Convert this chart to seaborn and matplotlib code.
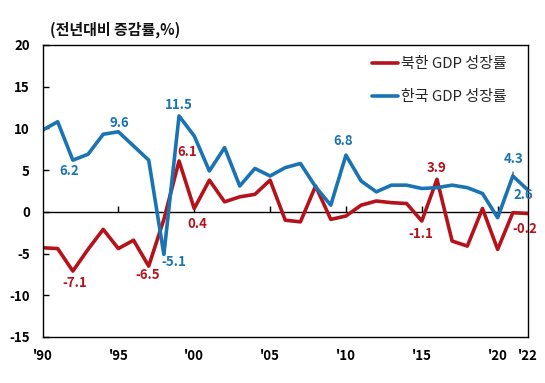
import matplotlib
matplotlib.use("Agg")
import matplotlib.pyplot as plt
import seaborn as sns
import pandas as pd

years = list(range(1990, 2023))
north = [-4.3, -4.4, -7.1, -4.5, -2.1, -4.4, -3.4, -6.5, -0.9, 6.1,
         0.4, 3.8, 1.2, 1.8, 2.1, 3.8, -1.0, -1.2, 3.1, -0.9,
         -0.5, 0.8, 1.3, 1.1, 1.0, -1.1, 3.9, -3.5, -4.1, 0.4,
         -4.5, -0.1, -0.2]
south = [9.8, 10.8, 6.2, 6.9, 9.3, 9.6, 7.9, 6.2, -5.1, 11.5,
         9.1, 4.9, 7.7, 3.1, 5.2, 4.3, 5.3, 5.8, 3.0, 0.8,
         6.8, 3.7, 2.4, 3.2, 3.2, 2.8, 2.9, 3.2, 2.9, 2.2,
         -0.7, 4.3, 2.6]
series_names = ["북한 GDP 성장률", "한국 GDP 성장률"]
x_tick_years = [1990, 1995, 2000, 2005, 2010, 2015, 2020, 2022]
x_tick_labels = ["'90", "'95", "'00", "'05", "'10", "'15", "'20", "'22"]
zero_tick_years = [1995, 2000, 2005, 2010, 2015, 2020]
y_ticks = [-15, -10, -5, 0, 5, 10, 15, 20]
title = "(전년대비 증감률,%)"

# labelled points: (year, text, dx px, dy px)
north_labels = [(1992, "-7.1", 2, -12), (1997, "-6.5", -1, -9), (1999, "6.1", 8, 9),
                (2000, "0.4", 3, -15), (2015, "-1.1", -1, -13), (2016, "3.9", 0, 11.5),
                (2022, "-0.2", -3, -15)]
south_labels = [(1992, "6.2", -4, -10.5), (1995, "9.6", 1, 9), (1998, "-5.1", 10, -7.5),
                (1999, "11.5", 0, 11), (2010, "6.8", -3, 14.5), (2022, "2.6", -5, -5)]
south_leader = (2021, "4.3", 1, 17)

RED = "#b5121b"
BLUE = "#1a74b3"

sns.set_style("white")
plt.rcParams["font.family"] = ["Noto Sans CJK KR", "DejaVu Sans"]

df = pd.DataFrame({
    "year": years * 2,
    "value": north + south,
    "series": [series_names[0]] * len(years) + [series_names[1]] * len(years),
})

W, H = 545, 383
fig = plt.figure(figsize=(W / 100, H / 100), dpi=100)
left, right, top, bottom = 42.5, 528, 45, 337
ax = fig.add_axes([left / W, 1 - bottom / H, (right - left) / W, (bottom - top) / H])

sns.lineplot(data=df, x="year", y="value", hue="series", hue_order=series_names,
             palette=[RED, BLUE], linewidth=2.6, ax=ax, legend=False)

ax.set_xlim(1990, 2022)
ax.set_ylim(-15, 20)
ax.set_yticks(y_ticks)
ax.set_yticklabels([str(v) for v in y_ticks], fontsize=9.5, fontweight="bold")
ax.set_xticks(x_tick_years)
ax.set_xticklabels(x_tick_labels, fontsize=9.5, fontweight="bold")
ax.tick_params(axis="y", direction="in", length=4, width=1, pad=9, left=True, colors="black")
ax.tick_params(axis="x", length=0, pad=9, colors="black")
ax.set_xlabel("")
ax.set_ylabel("")
for s in ax.spines.values():
    s.set_visible(True)
    s.set_color("black")
    s.set_linewidth(1.0)

ax.axhline(0, color="black", lw=1.0, zorder=1)
ax.plot(zero_tick_years, [0] * len(zero_tick_years), ls="none", marker=2,
        ms=4.5, mew=1.0, color="black", zorder=1)

def lab(series, yr, txt, dx, dy, color):
    v = series[years.index(yr)]
    ax.annotate(txt, (yr, v), xytext=(dx, dy), textcoords="offset pixels",
                ha="center", va="center", fontsize=9.5, fontweight="bold",
                color=color, annotation_clip=False)

for yr, t, dx, dy in north_labels:
    lab(north, yr, t, dx, dy, RED)
for yr, t, dx, dy in south_labels:
    lab(south, yr, t, dx, dy, BLUE)
yr, t, dx, dy = south_leader
ax.annotate(t, (yr, south[years.index(yr)]), xytext=(dx, dy), textcoords="offset pixels",
            ha="center", va="center", fontsize=9.5, fontweight="bold", color=BLUE,
            arrowprops=dict(arrowstyle="-", color="#333333", lw=0.8, shrinkA=2, shrinkB=1))

from matplotlib.lines import Line2D
handles = [Line2D([], [], color=RED, lw=2.6), Line2D([], [], color=BLUE, lw=2.6)]
fig.legend(handles, series_names, loc="upper left", bbox_to_anchor=(372 / W, 1 - 57 / H),
           frameon=False, fontsize=10.8, handlelength=1.7, handletextpad=0.25,
           labelspacing=1.3, borderpad=0, borderaxespad=0)

fig.text(50 / W, 1 - 30 / H, title, ha="left", va="center", fontsize=10.8,
         fontweight="bold", color="#111111")

fig.savefig("out.png", dpi=100)
